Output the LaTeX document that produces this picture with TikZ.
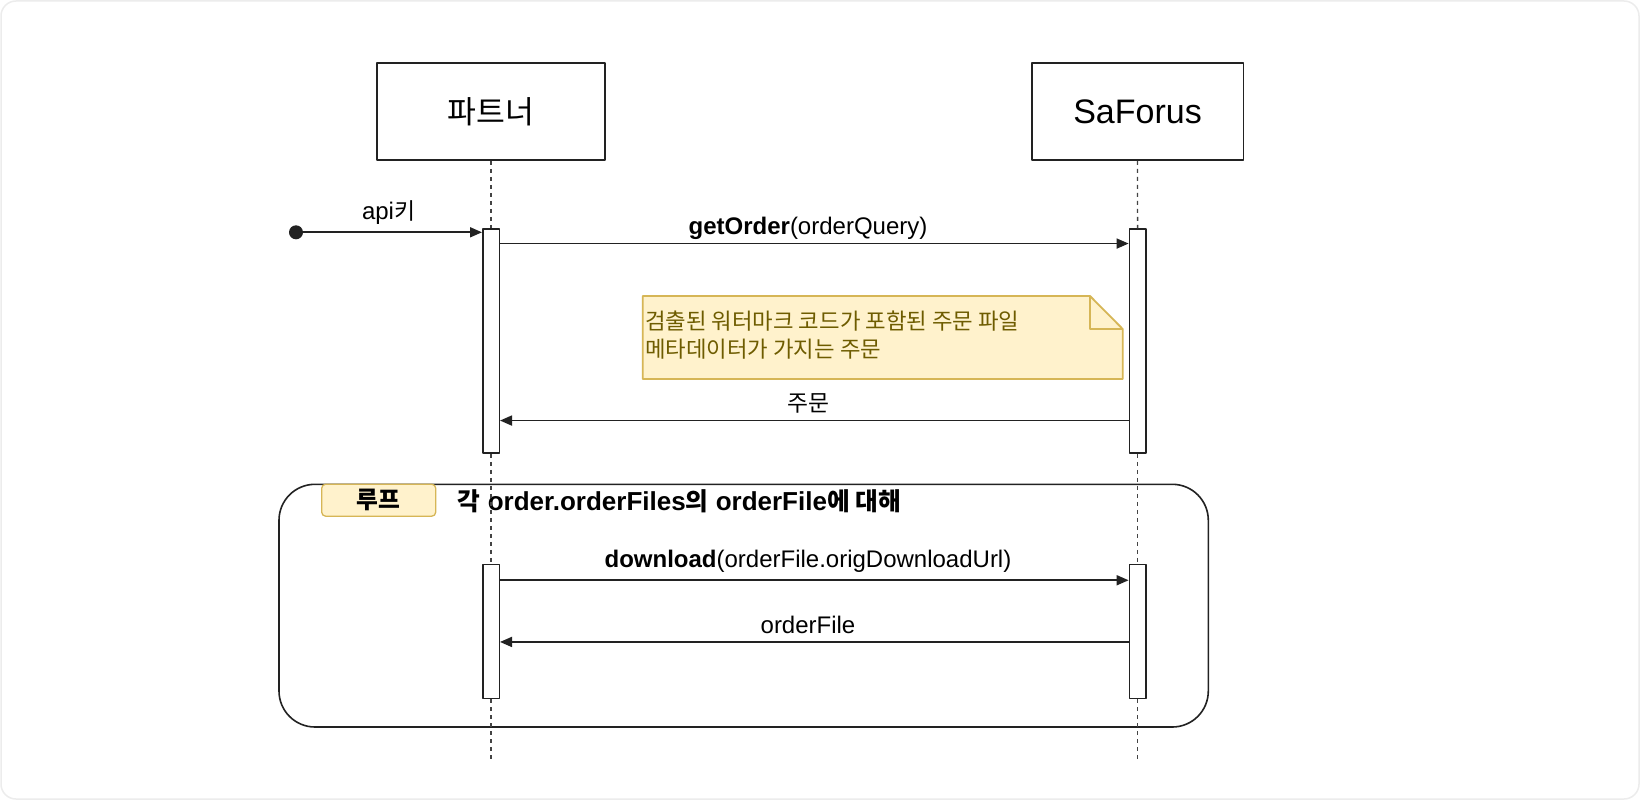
\documentclass[tikz,border=0pt]{standalone}
\usepackage{fontspec}
\setmainfont{Liberation Sans}
\newfontfamily\krf{Noto Sans CJK KR}[Scale=0.95]
\newcommand\KR[1]{{\krf #1}}
\usetikzlibrary{arrows.meta,calc}
\definecolor{notefill}{HTML}{FFF2CC}
\definecolor{notedraw}{HTML}{D6B656}
\definecolor{notetext}{HTML}{6E5C00}
\definecolor{ln}{HTML}{222222}
\definecolor{lifec}{HTML}{444444}
\definecolor{outer}{HTML}{ECECEC}
\begin{document}
\begin{tikzpicture}[x=1pt,y=-1pt,line join=round,
  participant/.style={draw=ln, line width=1.6pt, fill=white, minimum height=97pt, inner sep=0pt, font=\fontsize{34}{40}\selectfont},
  bar/.style={draw=ln, line width=1.5pt, fill=white, minimum width=16.5pt, inner sep=0pt},
  life/.style={draw=lifec, line width=1.3pt, dash pattern=on 4pt off 4pt},
  msg/.style={draw=ln, line width=1.7pt, -{Triangle[length=12pt,width=10pt]}},
  lbl/.style={font=\fontsize{24}{29}\selectfont, inner sep=0pt, text=black}]
\useasboundingbox (0,0) rectangle (1640,800);
\draw[outer, line width=1.5pt, rounded corners=15pt, fill=white] (1,1) rectangle (1639,799);

% participants
\node[participant, minimum width=228pt] (pbox) at (491,111.5) {\fontsize{33}{40}\selectfont\KR{파트너}};
\node[participant, minimum width=211.6pt] (sbox) at (1137.5,111.5) {SaForus};

% loop frame
\node[draw=ln, line width=1.6pt, rounded corners=36pt, minimum width=929.3pt, minimum height=242.7pt, inner sep=0pt] (loop) at (743.65,605.65) {};
\node[draw=notedraw, fill=notefill, line width=1.3pt, rounded corners=4pt, minimum width=114pt, minimum height=32pt, inner sep=0pt, font=\bfseries\fontsize{25}{29}\selectfont] (tag) at (378.7,500.2) {\KR{루프}};
\node[lbl, font=\bfseries\fontsize{26}{30}\selectfont, anchor=west] (looplbl) at (457.7,501.5) {\KR{각} order.orderFiles\KR{의} orderFile\KR{에 대해}};

% activation bars
\node[bar, minimum height=224pt] (pb1) at (491,341) {};
\node[bar, minimum height=224pt] (sb1) at (1137.6,341) {};
\node[bar, minimum height=134pt] (pb2) at (491,631.3) {};
\node[bar, minimum height=134pt] (sb2) at (1137.6,631.3) {};

% lifelines
\coordinate (pend) at (491,761);
\coordinate (send) at (1137.6,761);
\draw[life] (pbox.south) -- (pb1.north);
\draw[life] (pb1.south) -- (pb2.north);
\draw[life] (pb2.south) -- (pend);
\draw[life] (sbox.south) -- (sb1.north);
\draw[life] (sb1.south) -- (sb2.north);
\draw[life] (sb2.south) -- (send);

% note
\draw[draw=notedraw, fill=notefill, line width=1.8pt] (642.7,296) -- (1090,296) -- (1122.7,329) -- (1122.7,379) -- (642.7,379) -- cycle;
\draw[draw=notedraw, line width=1.8pt] (1090,296) -- (1090,329) -- (1122.7,329);
\node[anchor=west, align=left, inner sep=0pt, text=notetext, font=\krf\fontsize{23.5}{28}\selectfont] (notetxt) at (645,335) {검출된 워터마크 코드가 포함된 주문 파일\\메타데이터가 가지는 주문};

% start dot and api key
\node[circle, fill=ln, inner sep=0pt, minimum size=14pt] (start) at (296,232.3) {};
\draw[msg] (start) -- (start -| pb1.west);
\node[lbl] (lapi) at (388.5,213) {api\KR{키}};

% messages
\draw[msg] ($(pb1.north east)+(0,15.3)$) -- ($(sb1.north west)+(0,15.3)$);
\node[lbl] (lget) at (808,228.3) {\textbf{getOrder}(orderQuery)};
\draw[msg] ($(sb1.north west)+(0,192.3)$) -- ($(pb1.north east)+(0,192.3)$);
\node[lbl] (lret) at (808,403.3) {\KR{주문}};
\draw[msg] ($(pb2.north east)+(0,16.7)$) -- ($(sb2.north west)+(0,16.7)$);
\node[lbl] (ldl) at (808,561.7) {\textbf{download}(orderFile.origDownloadUrl)};
\draw[msg] ($(sb2.north west)+(0,78.4)$) -- ($(pb2.north east)+(0,78.4)$);
\node[lbl] (lof) at (808,625) {orderFile};
\end{tikzpicture}
\end{document}
